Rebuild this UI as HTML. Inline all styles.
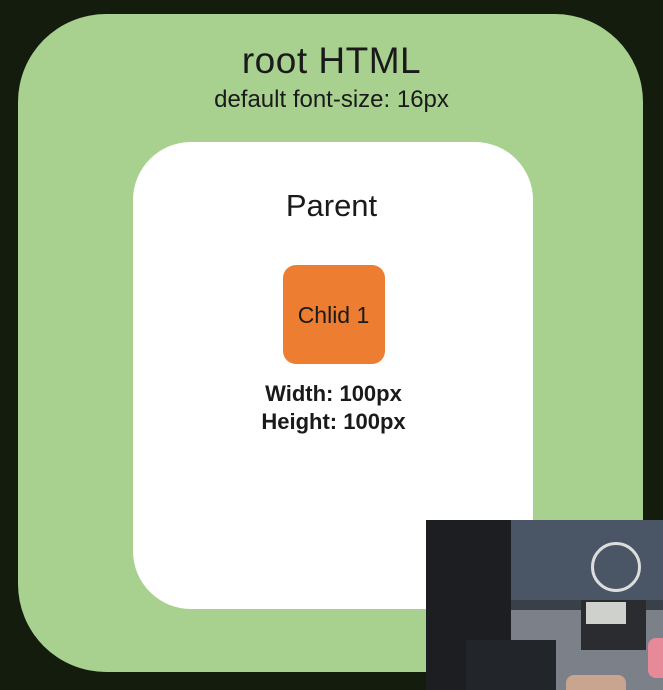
<!DOCTYPE html>
<html><head><meta charset="utf-8"><style>
html,body{margin:0;padding:0;}
body{width:663px;height:690px;background:#141c0e;position:relative;overflow:hidden;font-family:"Liberation Sans","Noto Sans CJK KR",sans-serif;color:#1a1a1a;}
.g{position:absolute;left:18px;top:14px;width:625px;height:658px;background:#a8d08f;border-radius:88px;}
.w{position:absolute;left:133px;top:142px;width:400px;height:467px;background:#fff;border-radius:58px;}
.o{position:absolute;left:283px;top:265px;width:102px;height:99px;background:#ec7d31;border-radius:13px;}
.t{position:absolute;left:0;width:663px;text-align:center;white-space:nowrap;}
.v{position:absolute;left:426px;top:520px;width:237px;height:170px;background:#3a4048;overflow:hidden;}
.v div{position:absolute;}
</style></head><body>
<div class="g"></div>
<div class="w"></div>
<div class="o"></div>
<div class="t" style="top:40px;font-size:37px;letter-spacing:0.5px;">root HTML</div>
<div class="t" style="top:86px;font-size:24px;">default font-size: 16px</div>
<div class="t" style="top:188px;font-size:31px;">Parent</div>
<div class="t" style="top:302px;font-size:23px;left:2px;">Chlid 1</div>
<div class="t" style="top:381px;font-size:22px;font-weight:bold;left:2px;">Width: 100px</div>
<div class="t" style="top:409px;font-size:22px;font-weight:bold;left:2px;">Height: 100px</div>
<div class="v">
<div style="left:60px;top:0;width:177px;height:80px;background:#4a5566;"></div>
<div style="left:80px;top:90px;width:157px;height:80px;background:#7c8088;"></div>
<div style="left:0;top:0;width:85px;height:170px;background:#1c1e22;"></div>
<div style="left:40px;top:120px;width:90px;height:50px;background:#22252a;"></div>
<div style="left:155px;top:80px;width:65px;height:50px;background:#2a2c30;"></div>
<div style="left:160px;top:82px;width:40px;height:22px;background:#cfd2cc;"></div>
<div style="left:165px;top:22px;width:50px;height:50px;border:3px solid #ddd;border-radius:50%;box-sizing:border-box;"></div>
<div style="left:140px;top:155px;width:60px;height:15px;background:#c9a58f;border-radius:8px 8px 0 0;"></div>
<div style="left:222px;top:118px;width:15px;height:40px;background:#e68a9a;border-radius:8px 0 0 8px;"></div>
</div>
</body></html>
